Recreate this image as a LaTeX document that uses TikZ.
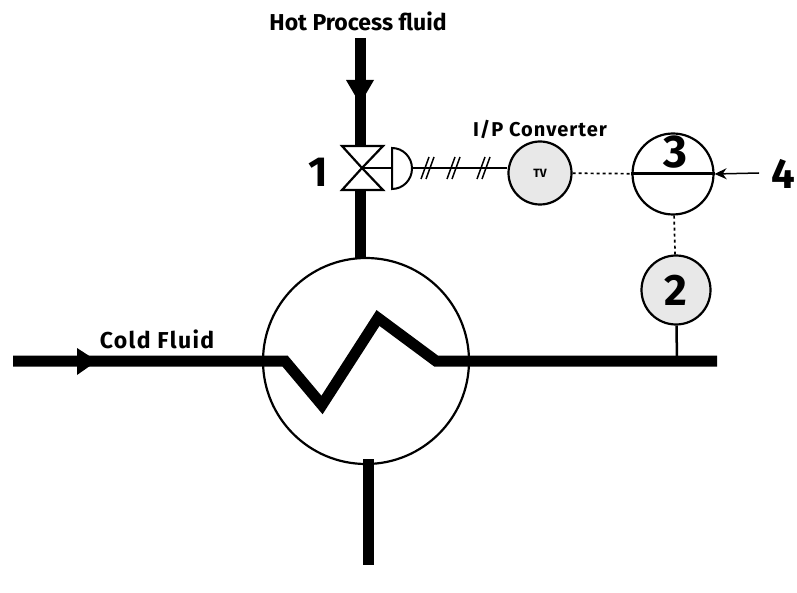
\documentclass[tikz,border=0pt]{standalone}
\usepackage{fontspec}
\setmainfont{Fira Sans}
\usetikzlibrary{arrows.meta, positioning}

\tikzset{
  pipe/.style={line width=11pt},
  instr/.style={circle, draw, line width=2.2pt, inner sep=0pt, fill=black!9},
  sig/.style={line width=1.7pt, dash pattern=on 3pt off 3pt},
  num/.style={font=\bfseries\fontsize{42}{42}\selectfont},
  lab/.style={font=\bfseries\fontsize{23}{23}\selectfont},
  tip/.style={fill=black, draw=none},
}

\begin{document}
\begin{tikzpicture}[x=1pt,y=-1pt]
      \useasboundingbox (0,0) rectangle (797,593);

      \node[circle, draw, line width=2.2pt, minimum size=206pt, inner sep=0pt] (hx) at (366,361) {};
      \node[instr, minimum size=63pt] (tv) at (540,173) {\bfseries\fontsize{12}{12}\selectfont TV};
      \node[circle, draw, line width=2.2pt, minimum size=81pt, inner sep=0pt] (ctrl) at (673,174) {};
      \node[instr, minimum size=69pt] (tt) at (676,290) {\bfseries\fontsize{44}{44}\selectfont 2};
      \node[font=\bfseries\fontsize{46}{46}\selectfont] (three) at (675,152) {3};

      \coordinate (hotin) at (360,38);
      \coordinate (vtop) at (360,146);
      \coordinate (vmid) at (362,168);
      \coordinate (vbot) at (360,190);
      \coordinate (vact) at (392,168);
      \coordinate (dmid) at (412,168);
      \coordinate (out) at (368,565);
      \coordinate (hxbot) at (368,459);
      \coordinate (coldin) at (13,361);
      \coordinate (z1) at (285,361);
      \coordinate (z2) at (322,405);
      \coordinate (z3) at (378,318);
      \coordinate (z4) at (436,361);
      \coordinate (pipeend) at (717,361);
      \coordinate (stem) at (677,361);
      \coordinate (sp) at (759,173);

      % valve and actuator
      \draw[line width=2.2pt, line join=miter, fill=white] (342,146) -- (383,146) -- (vmid) -- cycle;
      \draw[line width=2.2pt, line join=miter, fill=white] (342,190) -- (383,190) -- (vmid) -- cycle;
      \draw[line width=2pt] (vmid) -- (vact);
      \draw[line width=2pt, fill=white] (392,148) arc[start angle=-90, end angle=90, x radius=20pt, y radius=-20.5pt] -- cycle;

      % pipes
      \draw[pipe] (hotin) -- (vtop);
      \fill[tip] (346,80) -- (374,80) -- (360,104) -- cycle;
      \draw[pipe] (vbot) -- (360,258);
      \draw[pipe] (hxbot) -- (out);
      \draw[pipe, line join=miter] (coldin) -- (z1) -- (z2) -- (z3) -- (z4) -- (pipeend);
      \fill[tip] (77,348) -- (97,361) -- (77,375) -- cycle;

      % signals
      \draw[line width=1.5pt] (dmid) -- (tv.west |- dmid);
      \foreach \xx in {427,453,483}{
        \draw[line width=1.5pt] (\xx-6,179) -- (\xx+2,157);
        \draw[line width=1.5pt] (\xx-1,179) -- (\xx+7,157);
      }
      \draw[sig] (tv) -- (ctrl);
      \draw[sig] (ctrl) -- (tt);
      \draw[line width=2.5pt] (tt) -- (stem);
      \draw[line width=3pt] (ctrl.west) -- (ctrl.east);
      \draw[line width=1.5pt, -{Stealth[length=12pt,width=11pt]}] (sp) -- (ctrl.east);

      % labels
      \node[lab] (hot) at (358,21) {Hot Process fluid};
      \node[lab] (cold) at (157,339) {\addfontfeature{LetterSpace=6}Cold Fluid};
      \node[font=\bfseries\fontsize{20}{20}\selectfont] (ip) at (540,129) {\addfontfeature{LetterSpace=5}I/P Converter};
      \node[num] (one) at (318,172) {1};
      \node[num] (four) at (783,174) {4};
    \end{tikzpicture}
\end{document}
